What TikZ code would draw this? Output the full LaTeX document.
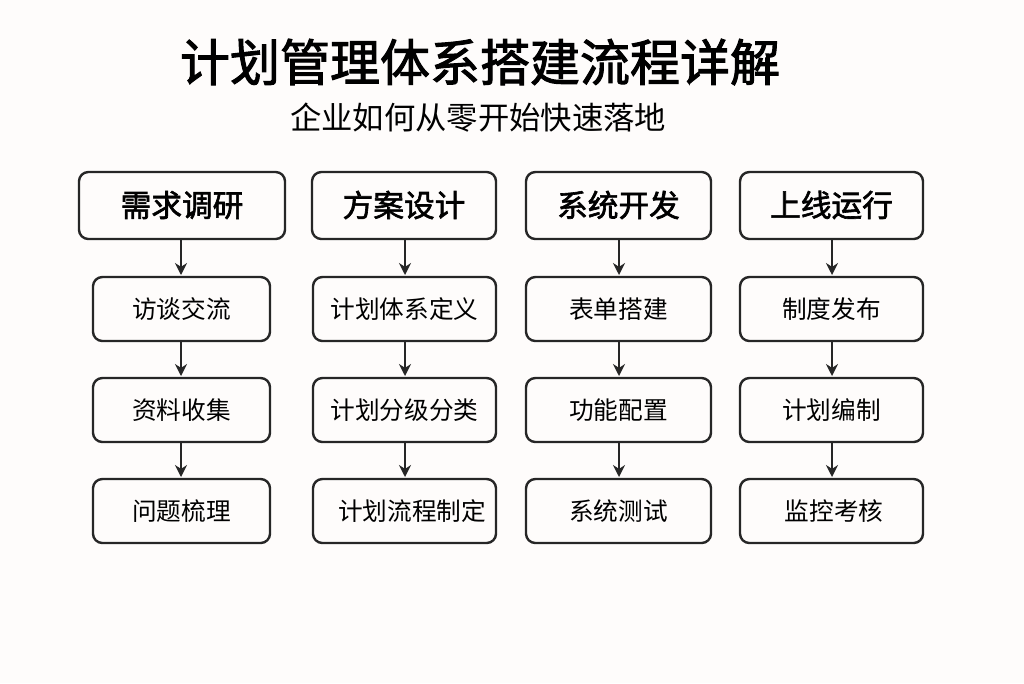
\documentclass[tikz,border=0pt]{standalone}
\usepackage{fontspec}
\newfontfamily\cjk{Noto Sans CJK SC}
\newfontfamily\cjkb{Noto Sans CJK SC}[FakeBold=2]
\usetikzlibrary{arrows.meta}
\begin{document}
\begin{tikzpicture}[x=0.75pt,y=-0.75pt,
  hbox/.style={draw=black!85,line width=1.8pt,rounded corners=7pt},
  sbox/.style={draw=black!85,line width=1.8pt,rounded corners=7pt},
  htext/.style={font=\cjkb\fontsize{23}{26}\selectfont},
  stext/.style={font=\cjk\fontsize{18.5}{22}\selectfont},
  arr/.style={-{Stealth[length=9pt,width=9pt]},line width=1.6pt,black!85}]
\fill[white!98!brown] (0,0) rectangle (1024,683);
\useasboundingbox (0,0) rectangle (1024,683);
\node (title) at (480,62) {\cjkb\fontsize{37.5}{42}\selectfont 计划管理体系搭建流程详解};
\node (sub) at (478,118) {\cjk\fontsize{23.5}{27}\selectfont 企业如何从零开始快速落地};
\def\col#1#2#3#4#5#6#7#8{%
  \path[hbox] (#1,172) rectangle (#2,239);
  \node[htext] (h#8) at ({(#1+#2)/2},205) {#3};
  \path[sbox] (#6,277) rectangle (#7,341);
  \node[stext] (a#8) at ({(#6+#7)/2},309) {#4};
  \path[sbox] (#6,378) rectangle (#7,442);
  \node[stext] (b#8) at ({(#6+#7)/2},410) {#5};
}
\col{79}{285}{需求调研}{访谈交流}{资料收集}{93}{270}{1}
\col{312}{496}{方案设计}{计划体系定义}{计划分级分类}{313}{496}{2}
\col{526}{711}{系统开发}{表单搭建}{功能配置}{526}{711}{3}
\col{740}{923}{上线运行}{制度发布}{计划编制}{740}{923}{4}
\path[sbox] (93,479) rectangle (270,543); \node[stext] (c1) at (181.5,511) {问题梳理};
\path[sbox] (313,479) rectangle (496,543); \node[stext] (c2) at (412,511) {计划流程制定};
\path[sbox] (526,479) rectangle (711,543); \node[stext] (c3) at (618.5,511) {系统测试};
\path[sbox] (740,479) rectangle (923,543); \node[stext] (c4) at (834,511) {监控考核};
\foreach \i/\x in {1/181,2/405,3/619,4/832}{
  \draw[arr] (\x,240) -- (\x,275);
  \draw[arr] (\x,342) -- (\x,376);
  \draw[arr] (\x,443) -- (\x,477);
}
\end{tikzpicture}
\end{document}
